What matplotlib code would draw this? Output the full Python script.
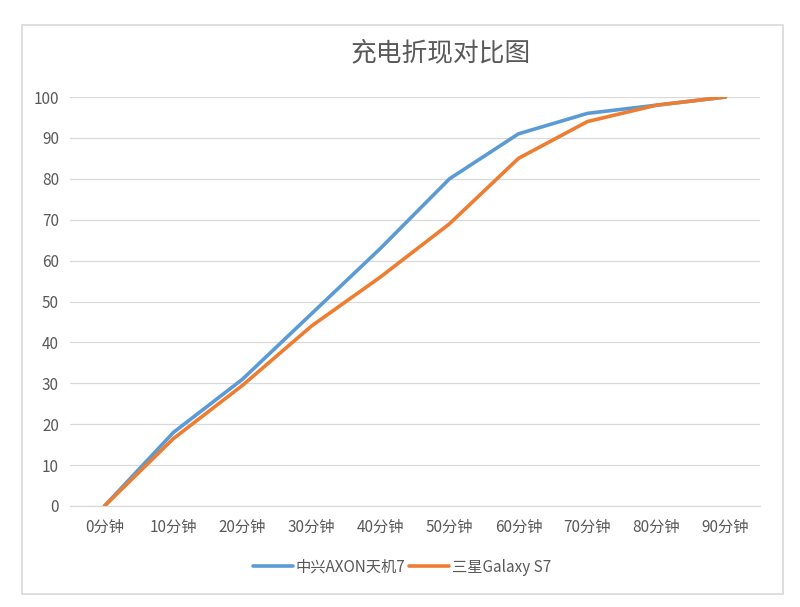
import matplotlib
matplotlib.use("Agg")
import matplotlib.pyplot as plt
from matplotlib.patches import Rectangle

plt.rcParams['font.family'] = ['Noto Sans CJK SC', 'DejaVu Sans']

categories = ["0分钟", "10分钟", "20分钟", "30分钟", "40分钟", "50分钟", "60分钟", "70分钟", "80分钟", "90分钟"]
axon = [0, 18, 31, 47, 63, 80, 91, 96, 98, 100]
galaxy = [0, 16.5, 29.5, 44, 56, 69, 85, 94, 98, 100]
series_names = ["中兴AXON天机7", "三星Galaxy S7"]
title = "充电折现对比图"

fig = plt.figure(figsize=(8, 6.07), dpi=100)
fig.patches.append(Rectangle((22/800, 1-594/607), (783-22)/800, (594-25)/607,
                             transform=fig.transFigure, fill=False,
                             edgecolor='#D9D9D9', linewidth=1.2))
ax = fig.add_axes([70/800, 1-506/607, 690/800, (506-97)/607])

x = list(range(len(categories)))
ax.plot(x, axon, color='#5B9BD5', lw=2.6, label=series_names[0], solid_capstyle='round', zorder=3)
ax.plot(x, galaxy, color='#ED7D31', lw=2.6, label=series_names[1], solid_capstyle='round', zorder=3)

ax.set_xlim(-0.5, len(categories) - 0.5)
ax.set_ylim(0, 100)
ax.set_yticks(range(0, 101, 10))
ax.set_xticks(x)
ax.set_xticklabels(categories)
ax.grid(axis='y', color='#D9D9D9', lw=0.9)
ax.set_axisbelow(True)
for s in ['top', 'right', 'left']:
    ax.spines[s].set_visible(False)
ax.spines['bottom'].set_color('#D9D9D9')
ax.spines['bottom'].set_linewidth(0.9)
ax.tick_params(axis='both', length=0, colors='#595959', labelsize=11)
ax.tick_params(axis='y', pad=8)
ax.tick_params(axis='x', pad=9)

fig.text(441/800, 1-53/607, title, ha='center', va='center', fontsize=18.5, color='#595959')

leg = ax.legend(loc='center', bbox_to_anchor=((402-70)/690, (506-567)/409), ncol=2,
                frameon=False, fontsize=11, handlelength=2.6, columnspacing=0.2,
                handletextpad=0.2, bbox_transform=ax.transAxes)
for t in leg.get_texts():
    t.set_color('#595959')

fig.savefig("out.png", dpi=100, facecolor='white')
